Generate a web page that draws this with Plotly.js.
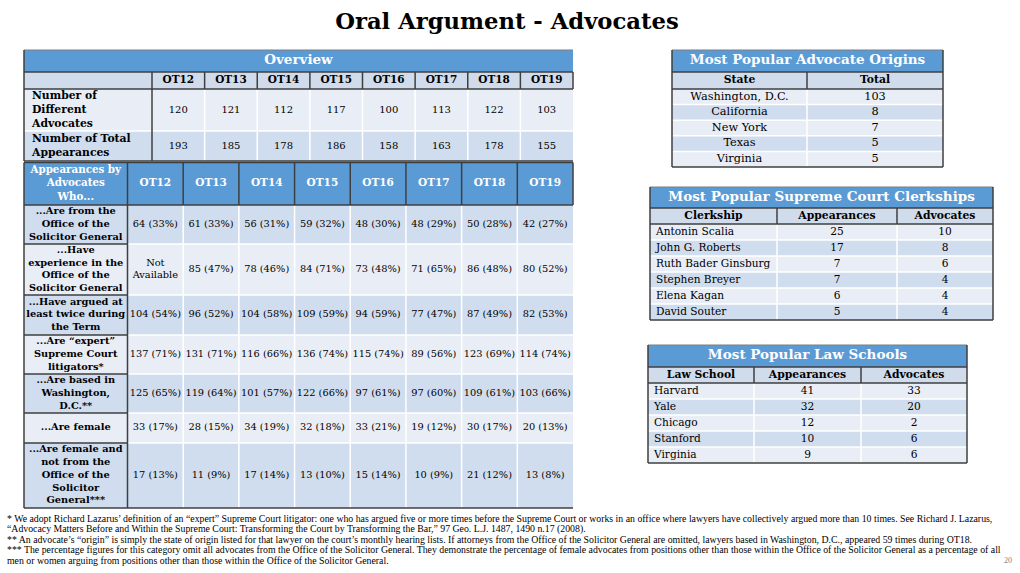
<!DOCTYPE html>
<html><head><meta charset="utf-8">
<script src="https://cdn.plot.ly/plotly-3.0.1.min.js"></script>
<style>html,body{margin:0;padding:0;background:#fff}</style>
</head><body><div id="chart" style="width:1020px;height:573px"></div>
<script>
// ---------------- DATA ----------------
const terms = ['OT12','OT13','OT14','OT15','OT16','OT17','OT18','OT19'];
const overviewLabels = ['Number of<br>Different<br>Advocates', 'Number of Total<br>Appearances'];
const differentAdvocates = [120,121,112,117,100,113,122,103];
const totalAppearances   = [193,185,178,186,158,163,178,155];

const whoLabels = [
  '...Are from the<br>Office of the<br>Solicitor General',
  '...Have<br>experience in the<br>Office of the<br>Solicitor General',
  '...Have argued at<br>least twice during<br>the Term',
  '...Are \u201cexpert\u201d<br>Supreme Court<br>litigators*',
  '...Are based in<br>Washington,<br>D.C.**',
  '...Are female',
  '...Are female and<br>not from the<br>Office of the<br>Solicitor<br>General***'
];
const osgCount        = [64,61,56,59,48,48,50,42];
const osgPct          = [33,33,31,32,30,29,28,27];
const osgExpCount     = [null,85,78,84,73,71,86,80];
const osgExpPct       = [null,47,46,71,48,65,48,52];
const twiceCount      = [104,96,104,109,94,77,87,82];
const twicePct        = [54,52,58,59,59,47,49,53];
const expertCount     = [137,131,116,136,115,89,123,114];
const expertPct       = [71,71,66,74,74,56,69,74];
const dcCount         = [125,119,101,122,97,97,109,103];
const dcPct           = [65,64,57,66,61,60,61,66];
const femaleCount     = [33,28,34,32,33,19,30,20];
const femalePct       = [17,15,19,18,21,12,17,13];
const femNonOsgCount  = [17,11,17,13,15,10,21,13];
const femNonOsgPct    = [13,9,14,10,14,9,12,8];

const originStates = ['Washington, D.C.','California','New York','Texas','Virginia'];
const originTotals = [103,8,7,5,5];

const clerkJustices = ['Antonin Scalia','John G. Roberts','Ruth Bader Ginsburg','Stephen Breyer','Elena Kagan','David Souter'];
const clerkAppearances = [25,17,7,7,6,5];
const clerkAdvocates   = [10,8,6,4,4,4];

const lawSchools = ['Harvard','Yale','Chicago','Stanford','Virginia'];
const lawAppearances = [41,32,12,10,9];
const lawAdvocates   = [33,20,2,6,6];

const footnotes = [
  '* We adopt Richard Lazarus\u2019 definition of an \u201cexpert\u201d Supreme Court litigator: one who has argued five or more times before the Supreme Court or works in an office where lawyers have collectively argued more than 10 times. See Richard J. Lazarus,',
  '\u201cAdvocacy Matters Before and Within the Supreme Court: Transforming the Court by Transforming the Bar,\u201d 97 Geo. L.J. 1487, 1490 n.17 (2008).',
  '** An advocate\u2019s \u201corigin\u201d is simply the state of origin listed for that lawyer on the court\u2019s monthly hearing lists. If attorneys from the Office of the Solicitor General are omitted, lawyers based in Washington, D.C., appeared 59 times during OT18.',
  '*** The percentage figures for this category omit all advocates from the Office of the Solicitor General. They demonstrate the percentage of female advocates from positions other than those within the Office of the Solicitor General as a percentage of all',
  'men or women arguing from positions other than those within the Office of the Solicitor General.'
];

// ---------------- STYLE ----------------
const FONT = 'DejaVu Serif';
const BLUE = '#5B9BD5', HEAD = '#D0DCEC', DARK = '#D0DDEE', LIGHT = '#E9EEF6', EDGE = '#3F3F3F', WHITE = '#FFFFFF';

const shapes = [];
const groups = {};
function rect(x0,y0,x1,y1,fill){ shapes.push({type:'rect',xref:'x',yref:'y',x0,y0,x1,y1,fillcolor:fill,line:{width:0},layer:'below'}); }
function ln(x0,y0,x1,y1,color,w){ shapes.push({type:'line',xref:'x',yref:'y',x0,y0,x1,y1,line:{color,width:w||1.5},layer:'below'}); }
function txt(x,y,t,size,bold,color,align){
  const key = [size,bold,color,align].join('|');
  if(!groups[key]) groups[key] = {size,bold,color,align,x:[],y:[],text:[]};
  groups[key].x.push(x); groups[key].y.push(y); groups[key].text.push(String(t));
}
const fmt = (c,p) => c === null ? 'Not<br>Available' : c + ' (' + p + '%)';

// ---------------- TABLE 1: Overview ----------------
(function(){
  const x0 = 24, xl = 152, x1 = 573, yT = 50, yH = 72, yB = [89,131,161];
  const w = (x1 - xl) / terms.length;
  rect(x0,yT,x1,yH,BLUE);
  txt((x0+x1)/2,(yT+yH)/2,'Overview',13.5,true,WHITE,'center');
  rect(x0,yH,x1,yB[0],HEAD);
  terms.forEach((t,i)=>txt(xl+(i+0.5)*w,(yH+yB[0])/2,t,10.5,true,'#000','center'));
  const rows = [differentAdvocates,totalAppearances];
  rows.forEach((vals,r)=>{
    const ya = yB[r], yb = yB[r+1];
    rect(x0,ya,x1,yb, r%2===0 ? LIGHT : DARK);
    txt(x0+8,(ya+yb)/2,overviewLabels[r],10.8,true,'#000','left');
    vals.forEach((v,i)=>txt(xl+(i+0.5)*w,(ya+yb)/2,v,10,false,'#000','center'));
  });
  for(let i=1;i<terms.length;i++) ln(xl+i*w,yB[0],xl+i*w,yB[2],WHITE,1.5);
  ln(x0,yB[1],x1,yB[1],WHITE,1.5);
  ln(x0,yT,x1,yT,'#7F7F7F',1.2);
  ln(x0,yH,x1,yH,EDGE,1.5);
  ln(x0,yB[0],x1,yB[0],EDGE,1.5);
  for(let i=1;i<terms.length;i++) ln(xl+i*w,yH,xl+i*w,yB[0],EDGE,1.5);
  ln(xl,yH,xl,yB[2],EDGE,1.5);
  ln(x1,yH,x1,yB[0],EDGE,1.5);
  ln(x0,yT,x0,yB[2],EDGE,1.5);
  ln(x0,yB[2],x1,yB[2],EDGE,1.5);
})();

// ---------------- TABLE 2: Appearances by advocates who... ----------------
(function(){
  const x0 = 24, xl = 127.5, x1 = 573;
  const e = [162.5,205,244,295,335,374,413,443,508];
  const w = (x1 - xl) / terms.length;
  rect(x0,e[0],x1,e[1],BLUE);
  txt((x0+xl)/2,(e[0]+e[1])/2,'Appearances by<br>Advocates<br>Who...',10.3,true,WHITE,'center');
  terms.forEach((t,i)=>txt(xl+(i+0.5)*w,(e[0]+e[1])/2,t,10.5,true,WHITE,'center'));
  const counts = [osgCount,osgExpCount,twiceCount,expertCount,dcCount,femaleCount,femNonOsgCount];
  const pcts   = [osgPct,osgExpPct,twicePct,expertPct,dcPct,femalePct,femNonOsgPct];
  counts.forEach((cs,r)=>{
    const ya = e[r+1], yb = e[r+2];
    rect(x0,ya,x1,yb, r%2===0 ? DARK : LIGHT);
    txt((x0+xl)/2,(ya+yb)/2,whoLabels[r],9.8,true,'#000','center');
    cs.forEach((c,i)=>txt(xl+(i+0.5)*w,(ya+yb)/2,fmt(c,pcts[r][i]),9.8,false,'#000','center'));
  });
  for(let i=1;i<terms.length;i++) ln(xl+i*w,e[1],xl+i*w,e[8],WHITE,1.5);
  for(let r=2;r<8;r++) ln(xl,e[r],x1,e[r],WHITE,1.5);
  for(let r=2;r<8;r++) ln(x0,e[r],xl,e[r],EDGE,1.5);
  for(let i=1;i<terms.length;i++) ln(xl+i*w,e[0],xl+i*w,e[1],EDGE,1.5);
  ln(x0,e[0],x1,e[0],EDGE,1.5);
  ln(x0,e[1],x1,e[1],EDGE,1.5);
  ln(xl,e[0],xl,e[8],EDGE,1.5);
  ln(x1,e[0],x1,e[1],EDGE,1.5);
  ln(x0,e[0],x0,e[8],EDGE,1.5);
  ln(x0,e[8],x1,e[8],EDGE,1.5);
})();

// ---------------- SMALL TABLES ----------------
function smallTable(c){
  const x0 = c.edges[0], x1 = c.edges[c.edges.length-1];
  rect(x0,c.yT,x1,c.yH,BLUE);
  txt((x0+x1)/2,(c.yT+c.yH)/2,c.title,13.5,true,WHITE,'center');
  rect(x0,c.yH,x1,c.yB,HEAD);
  c.headers.forEach((h,i)=>txt((c.edges[i]+c.edges[i+1])/2,(c.yH+c.yB)/2,h,10.8,true,'#000','center'));
  const n = c.columns[0].length;
  for(let r=0;r<n;r++){
    const ya = c.yB + r*c.rowH, yb = ya + c.rowH;
    rect(x0,ya,x1,yb, r%2===0 ? LIGHT : DARK);
    c.columns.forEach((col,i)=>{
      if(i===0 && c.leftFirst) txt(c.edges[0]+6,(ya+yb)/2,col[r],10.6,false,'#000','left');
      else txt((c.edges[i]+c.edges[i+1])/2,(ya+yb)/2,col[r],c.bodySize||10.6,false,'#000','center');
    });
  }
  const yEnd = c.yB + n*c.rowH;
  for(let r=1;r<n;r++) ln(x0,c.yB+r*c.rowH,x1,c.yB+r*c.rowH,WHITE,1.5);
  for(let i=1;i<c.edges.length-1;i++){
    ln(c.edges[i],c.yB,c.edges[i],yEnd,WHITE,1.5);
    ln(c.edges[i],c.yH,c.edges[i],c.yB,EDGE,1.5);
  }
  ln(x0,c.yT,x1,c.yT,'#7F7F7F',1.2);
  ln(x0,c.yH,x1,c.yH,EDGE,1.5);
  ln(x0,c.yB,x1,c.yB,EDGE,1.5);
  ln(x0,c.yT,x0,yEnd,EDGE,1.5);
  ln(x1,c.yT,x1,yEnd,EDGE,1.5);
  ln(x0,yEnd,x1,yEnd,EDGE,1.5);
}
smallTable({title:'Most Popular Advocate Origins', edges:[672,807,943], yT:50, yH:72, yB:89, rowH:15.6,
  headers:['State','Total'], columns:[originStates, originTotals], leftFirst:false, bodySize:11.3});
smallTable({title:'Most Popular Supreme Court Clerkships', edges:[650,777,897,993], yT:187, yH:208, yB:224, rowH:16,
  headers:['Clerkship','Appearances','Advocates'], columns:[clerkJustices, clerkAppearances, clerkAdvocates], leftFirst:true});
smallTable({title:'Most Popular Law Schools', edges:[648,754,861,967], yT:345, yH:367, yB:383, rowH:16,
  headers:['Law School','Appearances','Advocates'], columns:[lawSchools, lawAppearances, lawAdvocates], leftFirst:true});

// ---------------- TRACES ----------------
const data = Object.values(groups).map(g=>({
  type:'scatter', mode:'text', x:g.x, y:g.y, text:g.text,
  textposition: g.align==='left' ? 'middle right' : 'middle center',
  textfont:{family:FONT, size:g.size, color:g.color, weight:g.bold?700:400},
  hoverinfo:'skip', showlegend:false, cliponaxis:false
}));

// ---------------- FOOTNOTES ----------------
const footY = [518, 529, 539.5, 549.5, 560];
const annotations = footnotes.map((f,i)=>({
  xref:'x', yref:'y', x:5, y:footY[i], xanchor:'left', yanchor:'middle', showarrow:false,
  text:f, font:{family:'Liberation Serif', size:9.8, color:'#000'}, align:'left'
}));
annotations.push({xref:'x', yref:'y', x:1014, y:560, xanchor:'right', yanchor:'middle', showarrow:false,
  text:'20', font:{family:'Liberation Serif', size:8, color:'#7F7F7F'}});

const layout = {
  width:1020, height:573, margin:{l:0,r:0,t:0,b:0},
  paper_bgcolor:'#FFFFFF', plot_bgcolor:'#FFFFFF',
  title:{text:'<b>Oral Argument - Advocates</b>', font:{family:FONT, size:22.7, color:'#000'},
    x:0.497, xanchor:'center', y:1-21/573, yanchor:'middle', yref:'container'},
  xaxis:{range:[0,1020], visible:false, fixedrange:true},
  yaxis:{range:[573,0], visible:false, fixedrange:true},
  shapes, annotations, showlegend:false
};
Plotly.newPlot('chart', data, layout, {displayModeBar:false, staticPlot:true});
</script></body></html>
